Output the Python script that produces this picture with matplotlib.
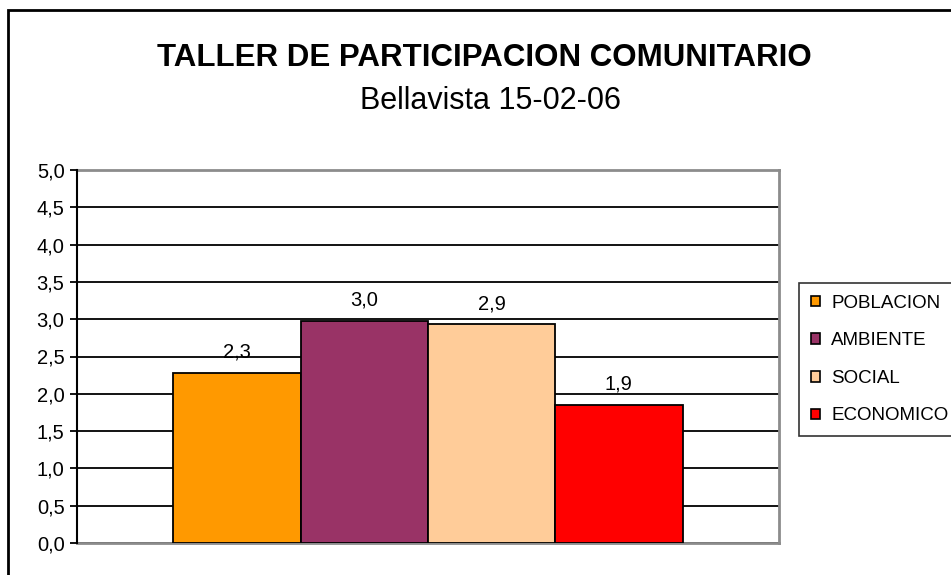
import matplotlib
matplotlib.use("Agg")
import matplotlib.pyplot as plt
from matplotlib.patches import Rectangle, Patch

# data
series = ["POBLACION", "AMBIENTE", "SOCIAL", "ECONOMICO"]
values = [2.28, 2.98, 2.93, 1.85]
colors = ["#FF9900", "#993366", "#FFCC99", "#FF0000"]
yticks = [0.0, 0.5, 1.0, 1.5, 2.0, 2.5, 3.0, 3.5, 4.0, 4.5, 5.0]

plt.rcParams["font.family"] = ["Liberation Sans", "DejaVu Sans"]

W, H = 951, 575
fig = plt.figure(figsize=(W / 100, H / 100), dpi=100)

# plot area in pixel terms
left, right, top, bottom = 77, 779, 170, 543
ax = fig.add_axes([left / W, 1 - bottom / H, (right - left) / W, (bottom - top) / H])

x = list(range(len(series)))
ax.bar(x, values, width=1.0, color=colors, edgecolor="black",
       linewidth=1.3, zorder=3)

for xi, v in zip(x, values):
    ax.annotate(f"{v:.1f}".replace(".", ","), (xi, v), xytext=(0, 8),
                textcoords="offset points", ha="center", va="bottom",
                fontsize=14.5, zorder=4)

pad = 0.758
ax.set_xlim(-0.5 - pad, len(series) - 0.5 + pad)
ax.set_ylim(0, 5)
ax.set_yticks(yticks)
ax.set_yticklabels([f"{t:.1f}".replace(".", ",") for t in yticks], fontsize=14.5)
ax.set_xticks([])
ax.tick_params(axis="y", direction="out", length=5, width=1.3, color="black", pad=4)
ax.yaxis.grid(True, color="black", linewidth=1.3, zorder=0)
ax.set_axisbelow(True)

for s in ["top", "right", "bottom"]:
    ax.spines[s].set_color("#8c8c8c")
    ax.spines[s].set_linewidth(2)
ax.spines["left"].set_color("black")
ax.spines["left"].set_linewidth(1.5)
ax.spines["left"].set_zorder(5)

# titles
fig.text(484 / W, 1 - 58 / H, "TALLER DE PARTICIPACION COMUNITARIO",
         ha="center", va="center", fontsize=22.5, fontweight="bold")
fig.text(490 / W, 1 - 101 / H, "Bellavista 15-02-06",
         ha="center", va="center", fontsize=22)

# legend
handles = [Patch(facecolor=c, edgecolor="black", linewidth=1.2) for c in colors]
leg = fig.legend(handles, series, loc="upper left",
                 bbox_to_anchor=(799 / W, 1 - 283 / H),
                 fontsize=13.5, frameon=True, fancybox=False,
                 edgecolor="black", handlelength=0.5, handleheight=0.5,
                 handletextpad=0.6, labelspacing=1.1, borderpad=0.62,
                 borderaxespad=0)
leg.get_frame().set_linewidth(1.2)

# outer chart border
fig.patches.append(Rectangle((8 / W, -0.1), 1.2, (H - 10) / H + 0.1,
                             transform=fig.transFigure, fill=False,
                             edgecolor="black", linewidth=2))

fig.savefig("out.png", dpi=100)
